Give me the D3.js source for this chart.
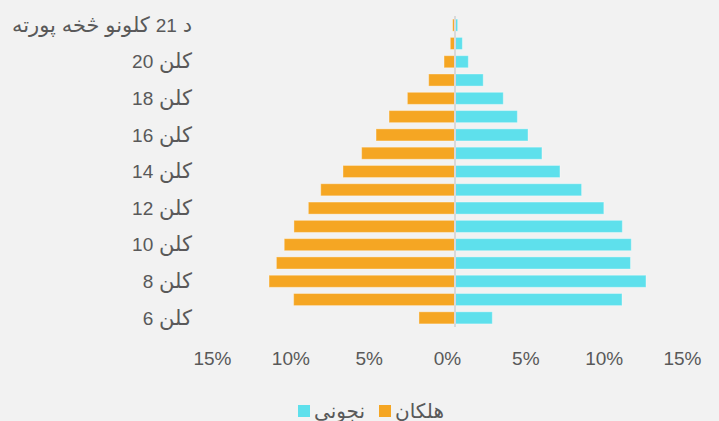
<!DOCTYPE html>
<html>
<head>
	<meta charset="utf-8">
	<title>pyramid</title>
	<script src="https://cdnjs.cloudflare.com/ajax/libs/d3/7.8.5/d3.min.js"></script>
	<style>
		body { margin:0; background:#f2f2f2; }
		svg { display:block; }
		text { font-family:"Liberation Sans", Arial, "DejaVu Sans", sans-serif; fill:#595959; }
	</style>
</head>
<body>
	<svg width="719" height="421"></svg>
	<script type="text/javascript">

		// ages, bottom to top
		var ages = ["6 کلن","7 کلن","8 کلن","9 کلن","10 کلن","11 کلن","12 کلن","13 کلن","14 کلن",
			"15 کلن","16 کلن","17 کلن","18 کلن","19 کلن","20 کلن","21 کلن","د 21 کلونو څخه پورته"];
		// percent of pupils
		var boys = [2.3, 10.3, 11.87, 11.4, 10.9, 10.28, 9.36, 8.57, 7.15, 5.96, 5.04, 4.21, 3.04, 1.68, 0.7, 0.3, 0.15];
		var girls = [2.38, 10.66, 12.19, 11.2, 11.25, 10.68, 9.5, 8.08, 6.7, 5.55, 4.66, 3.98, 3.08, 1.8, 0.85, 0.47, 0.17];
		var ticks = [-15, -10, -5, 0, 5, 10, 15];
		var seriesNames = ["نجونی", "هلکان"];
		var colors = {boys:"#f5a623", girls:"#5ee0ec"};

		var svg = d3.select("svg");
		var xScale = d3.scaleLinear().domain([-15, 15]).range([220, 690]);
		var yScale = d3.scaleBand().domain(d3.range(ages.length)).range([327, 16]).paddingInner(0.34).paddingOuter(0.17);

		var rows = ages.map(function(a, i) { return {age:a, i:i, boys:boys[i], girls:girls[i]} });

		svg.selectAll("rect.boys")
			.data(rows)
			.enter()
			.append("rect")
			.attr("class", "boys")
			.attr("x", function(d) { return xScale(-d.boys) })
			.attr("width", function(d) { return xScale(0) - xScale(-d.boys) })
			.attr("y", function(d) { return yScale(d.i) })
			.attr("height", yScale.bandwidth())
			.style("fill", colors.boys)
			.style("stroke", "rgba(255,255,255,0.35)")
			.style("stroke-width", "1px");

		svg.selectAll("rect.girls")
			.data(rows)
			.enter()
			.append("rect")
			.attr("class", "girls")
			.attr("x", xScale(0))
			.attr("width", function(d) { return xScale(d.girls) - xScale(0) })
			.attr("y", function(d) { return yScale(d.i) })
			.attr("height", yScale.bandwidth())
			.style("fill", colors.girls)
			.style("stroke", "rgba(255,255,255,0.35)")
			.style("stroke-width", "1px");

		// zero line
		svg.append("line")
			.attr("x1", xScale(0)).attr("x2", xScale(0))
			.attr("y1", 16).attr("y2", 327)
			.style("stroke", "#d9d9d9")
			.style("stroke-width", "2px");

		// category labels, every other one; arabic runs a bit larger than the digits
		var ageLabels = svg.selectAll("text.age")
			.data(rows.filter(function(d) { return d.i % 2 === 0 }))
			.enter()
			.append("text")
			.attr("class", "age")
			.attr("x", 192)
			.attr("y", function(d) { return yScale(d.i) + yScale.bandwidth() / 2 })
			.attr("dy", "0.35em")
			.attr("text-anchor", "end")
			.style("font-size", "19px");
		ageLabels.each(function(d) {
			var t = d3.select(this);
			d.age.split(/(\d+)/).forEach(function(part) {
				if (part === "") return;
				t.append("tspan")
					.style("font-size", /\d/.test(part) ? "19px" : "21px")
					.text(part);
			});
		});

		// x axis labels
		var xAxis = d3.axisBottom(xScale)
			.tickValues(ticks)
			.tickSize(0)
			.tickFormat(function(v) { return Math.abs(v) + "%" });
		var gx = svg.append("g")
			.attr("transform", "translate(-8,348)")
			.call(xAxis);
		gx.select(".domain").remove();
		gx.selectAll("text")
			.attr("fill", "#595959")
			.style("font-size", "19px")
			.style("font-family", "\"Liberation Sans\", Arial, sans-serif");

		// legend
		var legend = [
			{name:seriesNames[0], color:colors.girls, x:298},
			{name:seriesNames[1], color:colors.boys, x:379}
		];
		var lg = svg.selectAll("g.legend")
			.data(legend)
			.enter()
			.append("g")
			.attr("class", "legend")
			.attr("transform", function(d) { return "translate(" + d.x + ",405)" });
		lg.append("rect")
			.attr("width", 12).attr("height", 12)
			.style("fill", function(d) { return d.color });
		lg.append("text")
			.attr("x", 16)
			.attr("y", 6)
			.attr("dy", "0.35em")
			.style("font-size", "20px")
			.text(function(d) { return d.name });
	</script>
</body>
</html>
